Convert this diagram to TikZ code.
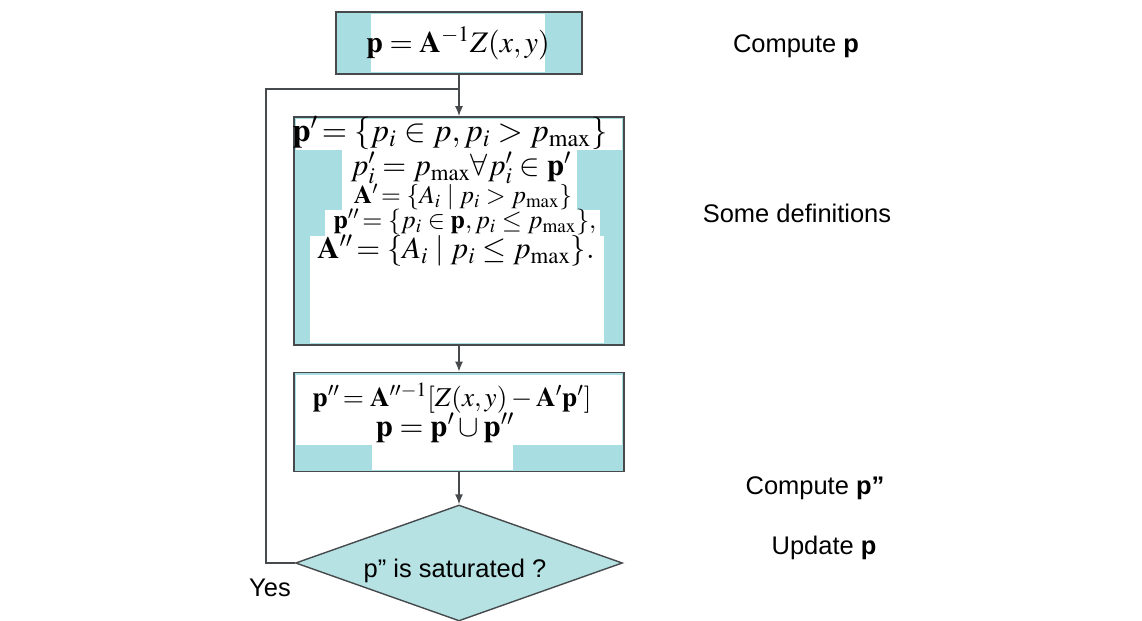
\documentclass[tikz,border=0pt]{standalone}
\usepackage{mathptmx}
\usepackage[no-math]{fontspec}
\newfontfamily\labelfont{Liberation Sans}
\definecolor{boxblue}{RGB}{168, 221, 226}
\definecolor{diablue}{RGB}{182, 226, 228}
\definecolor{edgegray}{RGB}{70, 74, 76}
\usetikzlibrary{arrows.meta, shapes.geometric}
\tikzset{
	stepbox/.style={rectangle, draw=edgegray, fill=boxblue, line width=1pt, inner sep=0pt},
	decision/.style={diamond, draw=edgegray, fill=diablue, line width=0.8pt, inner sep=0pt},
	formula/.style={inner sep=0pt, font=\fontsize{17}{20}\selectfont},
	note/.style={inner sep=0pt, font=\labelfont\fontsize{14.5}{17}\selectfont},
	paper/.style={fill=white},
	arrow/.style={-{Latex[length=2mm, width=1.6mm]}, line width=0.8pt, draw=edgegray},
	link/.style={line width=0.8pt, draw=edgegray},
}

\begin{document}
\begin{tikzpicture}[x=0.02cm, y=-0.02cm]
		\useasboundingbox (0,0) rectangle (1142,621);
		% boxes
		\node[stepbox, minimum width=4.92cm, minimum height=1.24cm] (compP) at (459,43) {};
		\node[stepbox, minimum width=6.6cm, minimum height=4.56cm] (defs) at (459,231) {};
		\node[stepbox, minimum width=6.6cm, minimum height=1.98cm] (comp2) at (459,422) {};
		\node[decision, minimum width=6.54cm, minimum height=2.32cm] (sat) at (459,563) {};
		% white behind the text lines
		\fill[paper] (371,14) rectangle (545,72);
		\fill[paper] (296,119) rectangle (622,150);
		\fill[paper] (342,150) rectangle (577,210);
		\fill[paper] (325,210) rectangle (600,236);
		\fill[paper] (310,236) rectangle (604,343);
		\fill[paper] (296,375) rectangle (622,445);
		\fill[paper] (372,445) rectangle (513,470);
		% formulas
		\node[formula] (pinit) at (458,43) {$\mathbf{p} = \mathbf{A}^{-1}Z(x,y)$};
		\node[formula, font=\fontsize{18.5}{20}\selectfont] (pone) at (450,133) {$\mathbf{p}'\!=\{p_i \in p, p_i > p_{\max}\}$};
		\node[formula, font=\fontsize{17.5}{20}\selectfont] (pclip) at (461,168) {$p'_i = p_{\max} \forall p'_i \in \mathbf{p}'$};
		\node[formula, font=\fontsize{14.5}{17}\selectfont] (aone) at (463,197) {$\mathbf{A}'\!=\{A_i \mid p_i > p_{\max}\}$};
		\node[formula, font=\fontsize{14.7}{17}\selectfont] (ptwo) at (465,222) {$\mathbf{p}''\!=\{p_i \in \mathbf{p}, p_i \le p_{\max}\},$};
		\node[formula, font=\fontsize{17.5}{20}\selectfont] (atwo) at (456,251) {$\mathbf{A}''\!=\{A_i \mid p_i \le p_{\max}\}.$};
		\node[formula, font=\fontsize{15.5}{18}\selectfont] (psolve) at (452,398) {$\mathbf{p}''\!= \mathbf{A}''^{-1}[Z(x,y) - \mathbf{A}'\mathbf{p}']$};
		\node[formula, font=\fontsize{17.5}{20}\selectfont] (pjoin) at (445,428) {$\mathbf{p} = \mathbf{p}'\cup\mathbf{p}''$};
		\node[note] (satq) at (455,571) {p” is saturated ?};
		\node[note] (yes) at (270,588) {Yes};
		% notes on the right
		\node[note] (ncomp) at (796,46) {Compute \textbf{p}};
		\node[note] (ndefs) at (797,213) {Some definitions};
		\node[note] (ncomp2) at (815,488) {Compute \textbf{p”}};
		\node[note] (nupd) at (824,548) {Update \textbf{p}};
		% connectors
		\coordinate (join) at (459,89);
		\coordinate (back) at (266,89);
		\draw[arrow] (compP) -- (defs);
		\draw[arrow] (defs) -- (comp2);
		\draw[arrow] (comp2) -- (sat);
		\draw[link] (sat.west) -| (back) -- (join);
	\end{tikzpicture}
\end{document}
